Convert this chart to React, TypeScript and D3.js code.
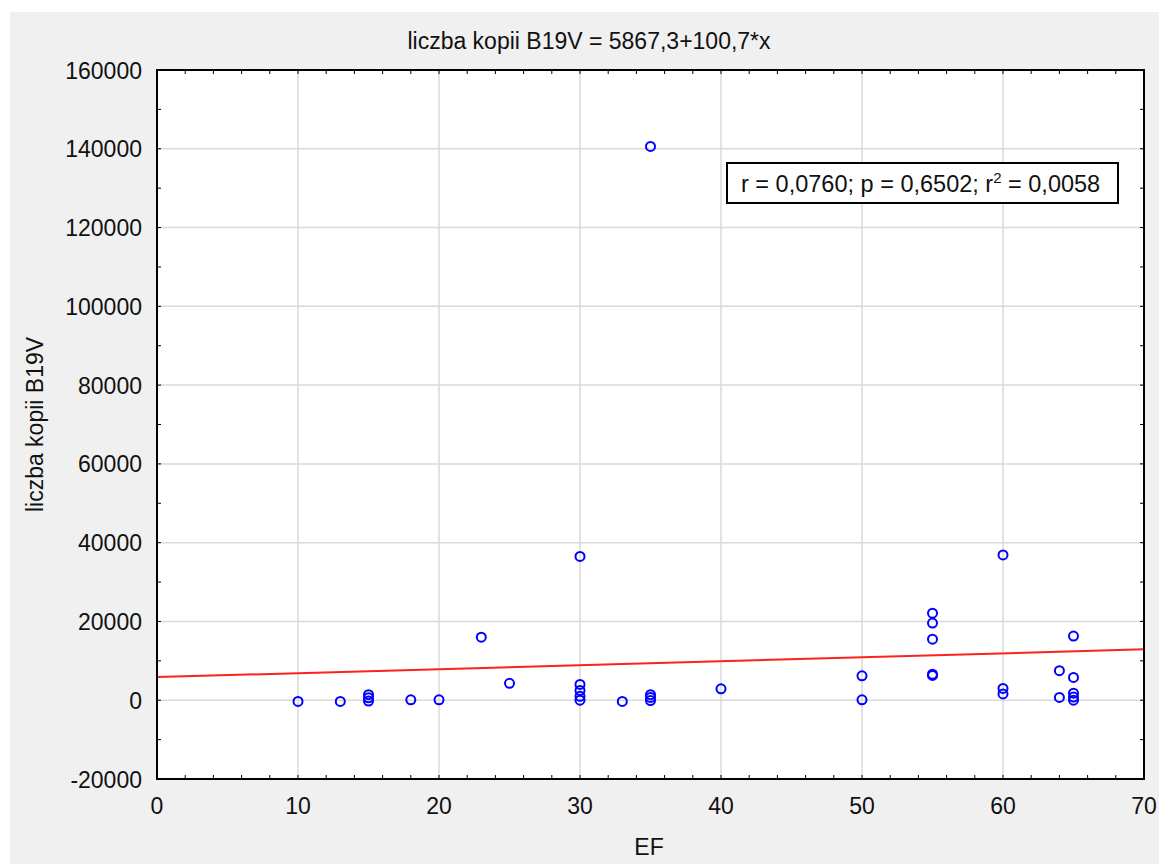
import React from 'react';
import * as d3 from 'd3';

// EF (x) and liczba kopii B19V (y)
const ef = [
  10, 13, 15, 15, 15, 18, 20, 23, 25,
  30, 30, 30, 30, 30, 33, 35, 35, 35, 35, 40,
  50, 50, 55, 55, 55, 55, 55, 60, 60, 60,
  64, 64, 65, 65, 65, 65, 65,
];
const copies = [
  -300, -300, 1400, 600, -200, 100, 100, 16000, 4300,
  36500, 4000, 2500, 1000, 0, -300, 140600, 1400, 700, -100, 2900,
  6200, 100, 22100, 19600, 15500, 6600, 6300, 36900, 3000, 1600,
  7500, 700, 16300, 5800, 1800, 800, 0,
];

const xTicks = [0, 10, 20, 30, 40, 50, 60, 70];
const yTicks = [-20000, 0, 20000, 40000, 60000, 80000, 100000, 120000, 140000, 160000];
const intercept = 5867.3;
const slope = 100.7;

const title = 'liczba kopii B19V = 5867,3+100,7*x';
const xLabel = 'EF';
const yLabel = 'liczba kopii B19V';

const font = '"Liberation Sans", Arial, sans-serif';

const margin = { top: 70, right: 15, bottom: 85, left: 157 };
const width = 1159;
const height = 864;

const App = () => {
  const x = d3.scaleLinear().domain([0, 70]).range([margin.left, width - margin.right]);
  const y = d3.scaleLinear().domain([-20000, 160000]).range([height - margin.bottom, margin.top]);

  const minorX = d3.range(0, 70.01, 2);
  const minorY = d3.range(-20000, 160001, 10000);
  const line = d3.line<number>().x(d => x(d)).y(d => y(intercept + slope * d));

  const [x0, x1] = x.range();
  const [y0, y1] = y.range();

  return (
    <svg
      width={width}
      height={height}
      style={{ position: 'absolute', left: 0, top: 0, fontFamily: font }}
    >
      <rect x={10} y={12} width={width - 10} height={height - 12} fill="#f0f0f0" />
      <rect x={x0} y={y1} width={x1 - x0} height={y0 - y1} fill="#fff" />

      <g className="grid" stroke="#dadada" strokeWidth={1.5}>
        {xTicks.slice(1, -1).map(t => (
          <line key={t} x1={x(t)} x2={x(t)} y1={y1} y2={y0} />
        ))}
        {yTicks.slice(1, -1).map(t => (
          <line key={t} x1={x0} x2={x1} y1={y(t)} y2={y(t)} />
        ))}
      </g>

      <g className="ticks" stroke="#000" strokeWidth={1}>
        {minorX.map(t => (
          <g key={t}>
            <line x1={x(t)} x2={x(t)} y1={y0} y2={y0 - 4} />
            <line x1={x(t)} x2={x(t)} y1={y1} y2={y1 + 4} />
          </g>
        ))}
        {minorY.map(t => (
          <g key={t}>
            <line x1={x0} x2={x0 + 4} y1={y(t)} y2={y(t)} />
            <line x1={x1} x2={x1 - 4} y1={y(t)} y2={y(t)} />
          </g>
        ))}
      </g>

      <path d={line([0, 70]) || ''} fill="none" stroke="#ff2020" strokeWidth={2} />

      <g className="data">
        {ef.map((e, i) => (
          <circle
            key={i}
            cx={x(e)}
            cy={y(copies[i])}
            r={4.5}
            fill="none"
            stroke="#0000ff"
            strokeWidth={2}
          />
        ))}
      </g>

      <rect x={x0} y={y1} width={x1 - x0} height={y0 - y1} fill="none" stroke="#000" strokeWidth={2} />

      <g className="axis" fontSize={23} fill="#111">
        {xTicks.map(t => (
          <text key={t} x={x(t)} y={y0 + 35} textAnchor="middle">{t}</text>
        ))}
        {yTicks.map(t => (
          <text key={t} x={x0 - 15} y={y(t) + 8.5} textAnchor="end">{t}</text>
        ))}
      </g>

      <text x={589} y={49} textAnchor="middle" fontSize={23} fill="#111">{title}</text>
      <text x={649} y={855} textAnchor="middle" fontSize={23} fill="#111">{xLabel}</text>
      <text
        transform={`translate(43, ${(y0 + y1) / 2}) rotate(-90)`}
        textAnchor="middle"
        fontSize={23}
        fill="#111"
      >
        {yLabel}
      </text>

      <g className="stats">
        <rect x={727} y={163} width={391} height={40} fill="#fff" stroke="#000" strokeWidth={2} />
        <text x={741} y={192} fontSize={23.5} fill="#111">
          r = 0,0760; p = 0,6502; r
          <tspan dy={-9} fontSize={15}>2</tspan>
          <tspan dy={9}> = 0,0058</tspan>
        </text>
      </g>
    </svg>
  );
};

export default App;
